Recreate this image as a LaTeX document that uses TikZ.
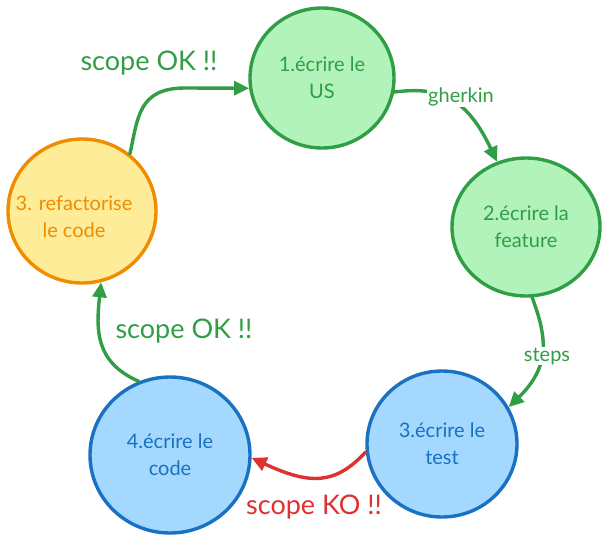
\documentclass[tikz,border=0pt]{standalone}
\usepackage{fontspec}
\setmainfont{Lato}
\usetikzlibrary{arrows.meta,shapes.geometric}
\definecolor{gstroke}{HTML}{2F9E44}
\definecolor{gfill}{HTML}{B2F2BB}
\definecolor{ostroke}{HTML}{F08C00}
\definecolor{ofill}{HTML}{FFEC99}
\definecolor{bstroke}{HTML}{1971C2}
\definecolor{bfill}{HTML}{A5D8FF}
\definecolor{rstroke}{HTML}{E03131}
\tikzset{
  stepnode/.style={ellipse, inner sep=0pt, line width=3.4pt, align=center,
    font=\fontsize{20}{27}\selectfont},
  greennode/.style={stepnode, draw=gstroke, fill=gfill, text=gstroke},
  orangenode/.style={stepnode, draw=ostroke, fill=ofill, text=ostroke},
  bluenode/.style={stepnode, draw=bstroke, fill=bfill, text=bstroke},
  arr/.style={line width=3.4pt, line cap=round, line join=round,
    -{Triangle[length=15pt,width=14pt]}},
  biglabel/.style={font=\fontsize{27}{30}\selectfont, inner sep=1pt},
  smalllabel/.style={font=\fontsize{20}{22}\selectfont, fill=white, inner sep=1pt, text=gstroke},
}
\begin{document}
\begin{tikzpicture}[x=1pt,y=-1pt]
\useasboundingbox (0,0) rectangle (609,543);
\node[greennode, minimum width=144pt, minimum height=140pt] (us) at (322,78) {1.écrire le\\US};
\node[greennode, minimum width=148pt, minimum height=138pt] (feat) at (526,227) {2.écrire la\\feature};
\node[bluenode, minimum width=150pt, minimum height=146pt] (test) at (442,444) {3.écrire le\\test};
\node[bluenode, minimum width=160pt, minimum height=156pt] (code) at (170,455) {4.écrire le\\code};
\node[orangenode, minimum width=148pt, minimum height=144pt] (refac) at (82,211) {};
\node[text=ostroke, align=center, font=\fontsize{20}{27}\selectfont, inner sep=0pt] (refactxt) at (74,217) {3. refactorise\\le code};

% refactor -> US
\draw[arr, gstroke] (refac.50) .. controls (138,118) and (138,88) .. (185,88) -- (us.188);
\node[biglabel, text=gstroke] (lab1) at (149,63) {scope OK !!};

% US -> feature
\draw[arr, gstroke] (us.-11) .. controls (440,86) and (467,98) .. (feat.114);
\node[smalllabel] (lab2) at (461,97) {gherkin};

% feature -> test
\draw[arr, gstroke] (feat.-85) .. controls (546,335) and (552,365) .. (test.29);
\node[smalllabel] (lab3) at (547,356) {steps};

% test -> code
\draw[arr, rstroke] (test.186) .. controls (335,485) and (310,485) .. (code.-2);
\node[biglabel, text=rstroke] (lab4) at (314,507) {scope KO !!};

% code -> refactor
\draw[arr, gstroke] (code.113) .. controls (95,362) and (96,330) .. (refac.-75);
\node[biglabel, text=gstroke] (lab5) at (184,331) {scope OK !!};
\end{tikzpicture}
\end{document}
